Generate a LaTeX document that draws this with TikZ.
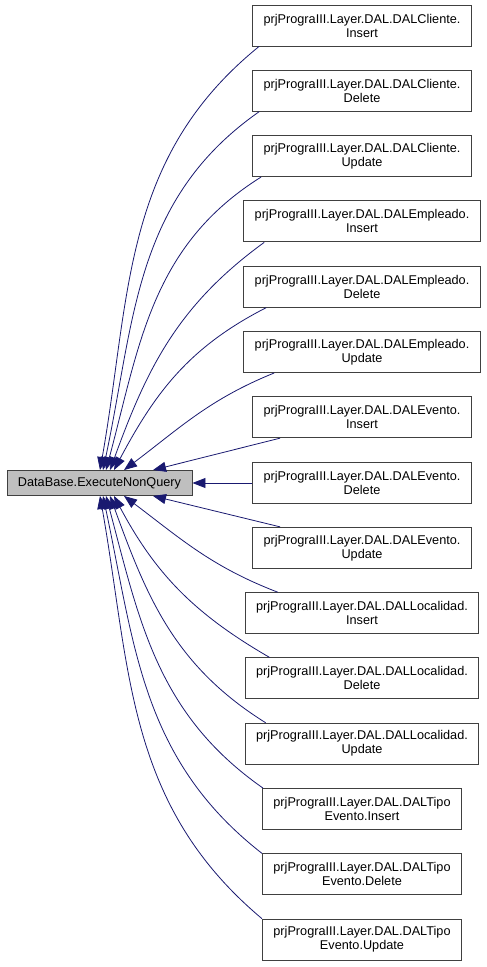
\documentclass[tikz,border=0pt]{standalone}
\usepackage{fontspec}
\setmainfont{Liberation Sans}
\usetikzlibrary{arrows.meta, positioning}
\definecolor{edgeblue}{RGB}{25,25,112}
\definecolor{nodegray}{RGB}{191,191,191}
\definecolor{framegray}{RGB}{64,64,64}

\begin{document}
\begin{tikzpicture}[x=1pt, y=1pt,
    target/.style={draw=framegray, line width=0.9pt, fill=nodegray,
                   minimum height=25pt, inner xsep=11pt,
                   font=\fontsize{12.7}{14}\selectfont},
    caller/.style={draw=framegray, line width=0.9pt, fill=white,
                   minimum height=41pt, inner xsep=11pt, inner ysep=2pt,
                   align=center, font=\fontsize{12.7}{14}\selectfont},
    arr/.style={-{Triangle[length=13pt, width=10pt]}, color=edgeblue, line width=0.8pt}
  ]
    \useasboundingbox (0,0) rectangle (487,-967);

    \node[target] (db) at (99.5,-483) {DataBase.ExecuteNonQuery};

    \node[caller] (cliIns) at (362,-25.5)  {prjPrograIII.Layer.DAL.DALCliente.\\Insert};
    \node[caller] (cliDel) at (362,-90.8)  {prjPrograIII.Layer.DAL.DALCliente.\\Delete};
    \node[caller] (cliUpd) at (362,-156.1) {prjPrograIII.Layer.DAL.DALCliente.\\Update};
    \node[caller] (empIns) at (362,-221.4) {prjPrograIII.Layer.DAL.DALEmpleado.\\Insert};
    \node[caller] (empDel) at (362,-286.7) {prjPrograIII.Layer.DAL.DALEmpleado.\\Delete};
    \node[caller] (empUpd) at (362,-352.0) {prjPrograIII.Layer.DAL.DALEmpleado.\\Update};
    \node[caller] (evtIns) at (362,-417.2) {prjPrograIII.Layer.DAL.DALEvento.\\Insert};
    \node[caller] (evtDel) at (362,-483)   {prjPrograIII.Layer.DAL.DALEvento.\\Delete};
    \node[caller] (evtUpd) at (362,-547.8) {prjPrograIII.Layer.DAL.DALEvento.\\Update};
    \node[caller] (locIns) at (362,-613.1) {prjPrograIII.Layer.DAL.DALLocalidad.\\Insert};
    \node[caller] (locDel) at (362,-678.4) {prjPrograIII.Layer.DAL.DALLocalidad.\\Delete};
    \node[caller] (locUpd) at (362,-743.7) {prjPrograIII.Layer.DAL.DALLocalidad.\\Update};
    \node[caller] (tipIns) at (362,-809.0) {prjPrograIII.Layer.DAL.DALTipo\\Evento.Insert};
    \node[caller] (tipDel) at (362,-874.3) {prjPrograIII.Layer.DAL.DALTipo\\Evento.Delete};
    \node[caller] (tipUpd) at (362,-939.6) {prjPrograIII.Layer.DAL.DALTipo\\Evento.Update};

    % callers above
    \draw[arr] ([xshift=7pt]cliIns.south west)  to[out=219, in=80] ([xshift=0.5pt]db.north);
    \draw[arr] ([xshift=7pt]cliDel.south west)  to[out=215, in=78] ([xshift=3.5pt]db.north);
    \draw[arr] ([xshift=9pt]cliUpd.south west)  to[out=212, in=75] ([xshift=6.5pt]db.north);
    \draw[arr] ([xshift=21pt]empIns.south west) to[out=216, in=70] ([xshift=10.5pt]db.north);
    \draw[arr] ([xshift=23pt]empDel.south west) to[out=207, in=62] ([xshift=14.5pt]db.north);
    \draw[arr] ([xshift=31pt]empUpd.south west) to[out=202, in=37] ([xshift=24.5pt]db.north);
    \draw[arr] ([xshift=28pt]evtIns.south west) -- ([xshift=53.5pt]db.north);
    \draw[arr] (evtDel.west) -- (db.east);
    % callers below
    \draw[arr] ([xshift=28pt]evtUpd.north west) -- ([xshift=53.5pt]db.south);
    \draw[arr] ([xshift=33pt]locIns.north west) to[out=159, in=-37] ([xshift=24.5pt]db.south);
    \draw[arr] ([xshift=25pt]locDel.north west) to[out=150, in=-62] ([xshift=14.5pt]db.south);
    \draw[arr] ([xshift=21pt]locUpd.north west) to[out=148, in=-70] ([xshift=10.5pt]db.south);
    \draw[arr] ([xshift=1pt]tipIns.north west)  to[out=145, in=-75] ([xshift=6.5pt]db.south);
    \draw[arr] (tipDel.north west)              to[out=142, in=-78] ([xshift=3.5pt]db.south);
    \draw[arr] (tipUpd.north west)              to[out=140, in=-80] ([xshift=0.5pt]db.south);
  \end{tikzpicture}
\end{document}
